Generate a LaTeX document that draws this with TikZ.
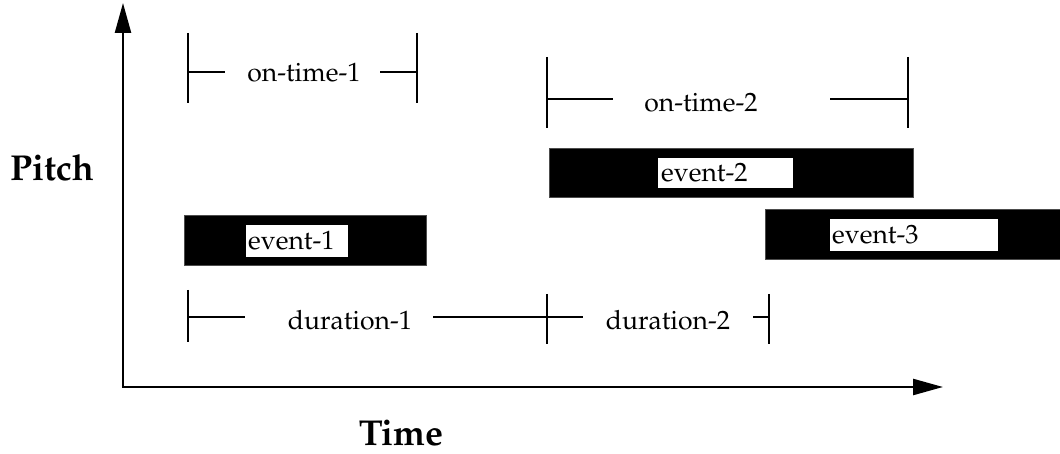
\documentclass[tikz,border=0pt]{standalone}
\usepackage[T1]{fontenc}
\usepackage{palatino}
\usetikzlibrary{arrows.meta}
\begin{document}
\begin{tikzpicture}[x=1pt,y=-1pt,
  axis/.style={line width=2.4pt,-{Triangle[length=30pt,width=16pt]}},
  dim/.style={line width=2.3pt},
  lbl/.style={font=\fontsize{26.5}{30}\selectfont,inner sep=0pt},
  bar/.style={fill=black,draw=black!70,line width=0.6pt,inner sep=0pt},
  evlbl/.style={fill=white,font=\fontsize{26.5}{30}\selectfont,inner sep=0pt,anchor=west},
  big/.style={font=\fontsize{36}{42}\selectfont\bfseries,inner sep=0pt}]
\useasboundingbox (0,0) rectangle (1060,454);
% axes
\coordinate (O) at (123,387);
\coordinate (ytip) at (123,3);
\coordinate (xtip) at (943,387);
\draw[axis] (O) -- (ytip);
\draw[axis] ([xshift=-1.2pt]O) -- (xtip);
\node[big] (pitch) at (52,168) {Pitch};
\node[big] (time) at (401,433) {Time};
% on-time-1
\coordinate (a1) at (188,33); \coordinate (a2) at (188,103);
\coordinate (b1) at (417,33); \coordinate (b2) at (417,103);
\draw[dim] (a1) -- (a2);
\draw[dim] (b1) -- (b2);
\node[lbl] (ot1) at (304,73) {on-time-1};
\draw[dim] (188,72) -- (225,72);
\draw[dim] (380,72) -- (417,72);
% on-time-2
\coordinate (c1) at (547,57); \coordinate (c2) at (547,128);
\coordinate (d1) at (908,57); \coordinate (d2) at (908,128);
\draw[dim] (c1) -- (c2);
\draw[dim] (d1) -- (d2);
\node[lbl] (ot2) at (701,103) {on-time-2};
\draw[dim] (547,99) -- (613,99);
\draw[dim] (830,99) -- (908,99);
% events
\node[bar,minimum width=364pt,minimum height=49pt] (e2) at (731,172.5) {};
\node[evlbl,minimum width=135pt,minimum height=30pt,text width=133pt,align=left] (e2l) at (658,173) {\hspace{2pt}event-2};
\node[bar,minimum width=242pt,minimum height=50pt] (e1) at (305,240) {};
\node[evlbl,minimum width=102pt,minimum height=32pt,text width=100pt,align=left] (e1l) at (246,241) {\hspace{1pt}event-1};
\node[bar,minimum width=310pt,minimum height=50pt] (e3) at (920,234) {};
\node[evlbl,minimum width=168pt,minimum height=32pt,text width=166pt,align=left] (e3l) at (830,235) {\hspace{1pt}event-3};
% durations
\coordinate (p1) at (188,290); \coordinate (p2) at (188,342);
\coordinate (q1) at (547,294); \coordinate (q2) at (547,344);
\coordinate (r1) at (769,294); \coordinate (r2) at (769,344);
\draw[dim] (p1) -- (p2);
\draw[dim] (q1) -- (q2);
\draw[dim] (r1) -- (r2);
\node[lbl] (du1) at (350,320) {duration-1};
\node[lbl] (du2) at (668,320) {duration-2};
\draw[dim] (188,317) -- (245,317);
\draw[dim] (433,317) -- (583,317);
\draw[dim] (753,317) -- (769,317);
\end{tikzpicture}
\end{document}
